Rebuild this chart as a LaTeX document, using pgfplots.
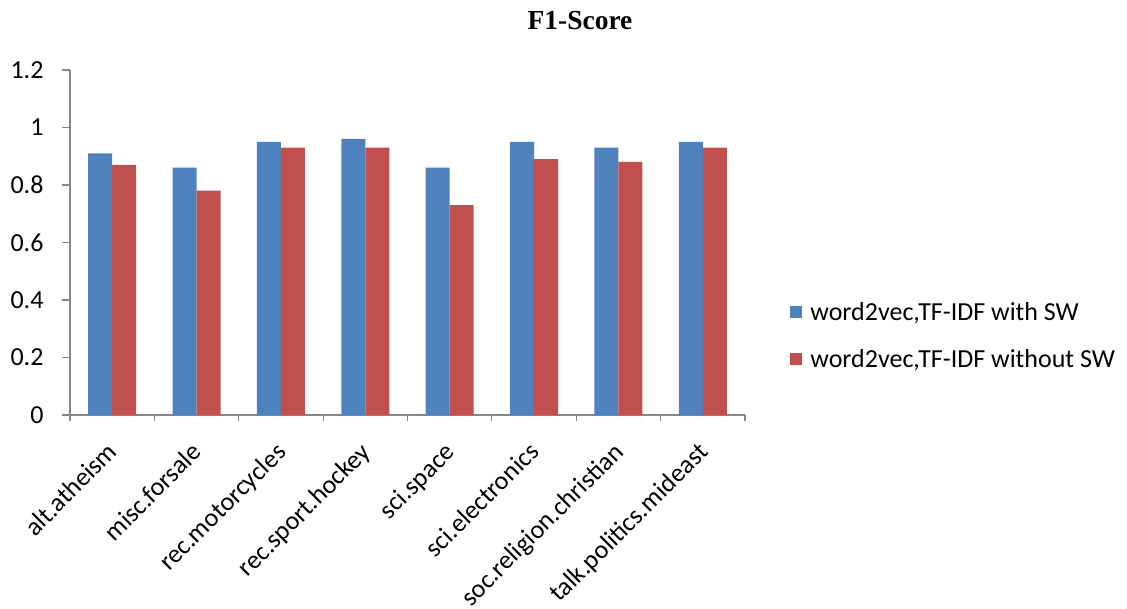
\documentclass[border=0pt]{standalone}
\usepackage{pgfplots}
\pgfplotsset{compat=1.18}
\usepackage{fontspec}
\setmainfont{Carlito}
\newfontfamily\titlefont{Liberation Serif}

\definecolor{barblue}{RGB}{79,129,189}
\definecolor{barred}{RGB}{192,80,77}
\definecolor{axisgray}{RGB}{134,134,134}

\pgfplotstableread{
idx withsw withoutsw
0 0.91 0.87
1 0.86 0.78
2 0.95 0.93
3 0.96 0.93
4 0.86 0.73
5 0.95 0.89
6 0.93 0.88
7 0.95 0.93
}\fscores

\begin{document}
\begin{tikzpicture}[x=1pt,y=1pt]
\useasboundingbox (0,0) rectangle (1127,608);
\node[font=\titlefont\bfseries\fontsize{27.5}{32}\selectfont] at (580,587) {F1-Score};
\begin{axis}[
  at={(70pt,193pt)}, anchor=south west,
  scale only axis,
  width=675pt, height=345pt,
  ybar=0pt, bar width=24pt,
  xmin=-0.5, xmax=7.5,
  ymin=0, ymax=1.2,
  ytick={0,0.2,...,1.2},
  yticklabel style={/pgf/number format/fixed, /pgf/number format/precision=1},
  /pgf/number format/assume math mode=true,
  xtick={0,...,7},
  xticklabels={alt.atheism,misc.forsale,rec.motorcycles,rec.sport.hockey,sci.space,sci.electronics,soc.religion.christian,talk.politics.mideast},
  minor xtick={-0.5,0.5,...,7.5},
  axis x line*=bottom, axis y line*=left,
  axis line style={draw=axisgray, line width=1.2pt, -},
  tick style={draw=axisgray, line width=1.2pt},
  tick align=outside,
  major tick length=8pt,
  minor tick length=6pt,
  major x tick style={draw=none},
  ticklabel style={font=\fontsize{26}{30}\selectfont},
  xticklabel style={rotate=45, anchor=north east, inner sep=0pt, xshift=-17pt, yshift=-8pt},
  yticklabel style={xshift=-15pt},
  legend style={at={(1.067,0.23)}, anchor=west, draw=none, fill=none,
    font=\fontsize{26}{30}\selectfont, row sep=23pt, inner sep=0pt, column sep=6pt},
  legend cell align=left,
  legend image code/.code={\fill[#1] (0pt,-6pt) rectangle (12pt,6pt);},
  clip=false,
]
\addplot[draw=none, fill=barblue] table[x=idx, y=withsw] {\fscores};
\addplot[draw=none, fill=barred] table[x=idx, y=withoutsw] {\fscores};
\legend{word2vec{,}TF-IDF with SW, word2vec{,}TF-IDF without SW}
\end{axis}
\end{tikzpicture}
\end{document}
